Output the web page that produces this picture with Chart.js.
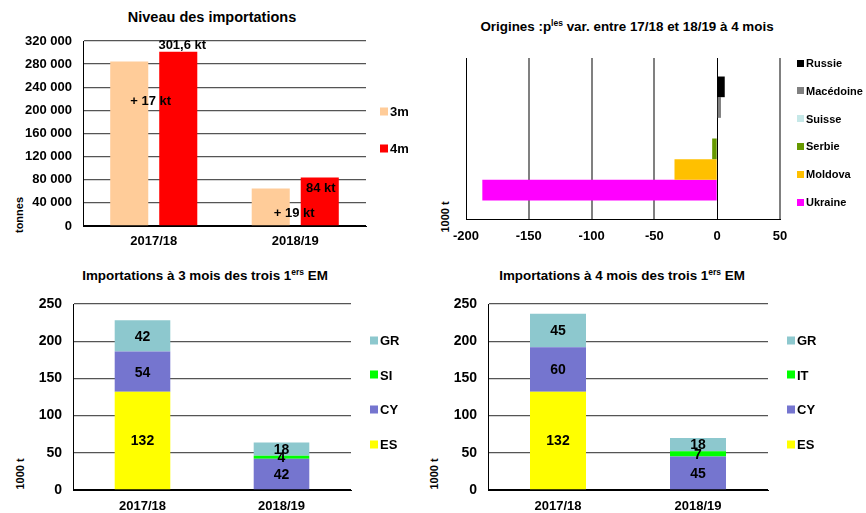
<!DOCTYPE html>
<html lang="fr">
<head>
<meta charset="utf-8">
<title>Importations</title>
<script src="https://cdn.jsdelivr.net/npm/chart.js@4.4.0/dist/chart.umd.min.js"></script>
<style>
  body { margin: 0; background: #fff; font-family: "Liberation Sans", Arial, sans-serif; color: #000; }
  #page { position: relative; width: 866px; height: 513px; overflow: hidden; background: #fff; }
  canvas { position: absolute; }
  .titre { position: absolute; font-weight: bold; font-size: 13.4px; white-space: nowrap; transform: translate(-50%, -50%); }
  .titre sup { font-size: 8.5px; vertical-align: 5px; line-height: 0; }
  .axe { position: absolute; font-weight: bold; font-size: 11px; white-space: nowrap; transform: translate(-50%, -50%) rotate(-90deg); }
  .leg { position: absolute; font-weight: bold; white-space: nowrap; transform: translateY(-50%); display: flex; align-items: center; }
  .leg .box { display: inline-block; margin-right: 2px; }
</style>
</head>
<body>
<div id="page">
  <div class="titre" style="left:212px; top:17px; font-size:14.5px">Niveau des importations</div>
  <div class="titre" style="left:627px; top:26px">Origines :p<sup>les</sup> var. entre 17/18 et 18/19 à 4 mois</div>
  <div class="titre" style="left:205px; top:275px">Importations à 3 mois des trois 1<sup>ers</sup> EM</div>
  <div class="titre" style="left:622px; top:275px">Importations à 4 mois des trois 1<sup>ers</sup> EM</div>

  <div class="axe" style="left:19px; top:215px">tonnes</div>
  <div class="axe" style="left:445px; top:217px">1000 t</div>
  <div class="axe" style="left:20px; top:474px">1000 t</div>
  <div class="axe" style="left:434px; top:474px">1000 t</div>

  <canvas id="c1" width="430" height="255" style="left:0; top:0"></canvas>
  <canvas id="c2" width="436" height="255" style="left:430px; top:0"></canvas>
  <canvas id="c3" width="430" height="258" style="left:0; top:255px"></canvas>
  <canvas id="c4" width="436" height="258" style="left:430px; top:255px"></canvas>
</div>

<script>
// DONNEES
const years = ["2017/18", "2018/19"];

// niveau des importations (tonnes)
const periods = ["3m", "4m"];
const imports3m = [284600, 65000];
const imports4m = [301600, 84000];
const notes = ["301,6 kt", "+ 17 kt", "84 kt", "+ 19 kt"];

// origines : variations entre 17/18 et 18/19 a 4 mois (1000 t)
const origins = ["Russie", "Macédoine", "Suisse", "Serbie", "Moldova", "Ukraine"];
const variations = [6, 3, 0.4, -4, -34, -187];
const originTicks = [-200, -150, -100, -50, 0, 50];

// trois premiers EM a 3 mois (1000 t)
const members3 = ["ES", "CY", "SI", "GR"];
const es3 = [132, 0];
const cy3 = [54, 42];
const si3 = [0, 4];
const gr3 = [42, 18];

// trois premiers EM a 4 mois (1000 t)
const members4 = ["ES", "CY", "IT", "GR"];
const es4 = [132, 0];
const cy4 = [60, 45];
const it4 = [0, 7];
const gr4 = [45, 18];

// COULEURS
const periodColors = ["#FFCC99", "#FF0000"];
const originColors = ["#000000", "#808080", "#C6E8E8", "#669900", "#FFC000", "#FF00FF"];
const memberColors = ["#FFFF00", "#7575CF", "#00FF00", "#8DC8CE"];

const FAMILY = "'Liberation Sans', Arial, sans-serif";
const tickFont = { family: FAMILY, size: 13, weight: "bold" };

Chart.defaults.font.family = FAMILY;
Chart.defaults.color = "#000";

function fixWidth(w) {
    return (scale) => { scale.width = w; };
}
function fixHeight(h) {
    return (scale) => { scale.height = h; };
}
function espaces(v) {
    return String(v).replace(/\B(?=(\d{3})+(?!\d))/g, " ");
}

// LEGENDE EN HTML
function legende(names, colors, left, top, step, size, box) {
    const page = document.getElementById("page");
    names.forEach((name, i) => {
        const item = document.createElement("div");
        item.className = "leg";
        item.style.left = left + "px";
        item.style.top = (top + i * step) + "px";
        item.style.fontSize = size + "px";
        const carre = document.createElement("span");
        carre.className = "box";
        carre.style.width = box + "px";
        carre.style.height = box + "px";
        carre.style.background = colors[i];
        item.appendChild(carre);
        item.appendChild(document.createTextNode(name));
        page.appendChild(item);
    });
}

// ETIQUETTES DU GRAPHIQUE 1
const notesPlugin = {
    id: "notes",
    afterDatasetsDraw(chart) {
        const ctx = chart.ctx;
        const y = chart.scales.y;
        const b3 = chart.getDatasetMeta(0).data;
        const b4 = chart.getDatasetMeta(1).data;
        ctx.save();
        ctx.font = "bold 13px " + FAMILY;
        ctx.fillStyle = "#000";
        ctx.textAlign = "center";
        ctx.textBaseline = "middle";
        ctx.fillText(notes[0], b4[0].x + 4, b4[0].y - 6);
        ctx.fillText(notes[1], (b3[0].x + b4[0].x) / 2 - 3, y.getPixelForValue(216000));
        ctx.fillText(notes[2], b4[1].x + 1, b4[1].y + 11);
        ctx.fillText(notes[3], (b3[1].x + b4[1].x) / 2 - 1, y.getPixelForValue(21000));
        ctx.restore();
    }
};

// VALEURS DANS LES BARRES EMPILEES
const valuesPlugin = {
    id: "values",
    afterDatasetsDraw(chart) {
        const ctx = chart.ctx;
        ctx.save();
        ctx.font = "bold 14px " + FAMILY;
        ctx.fillStyle = "#000";
        ctx.textAlign = "center";
        ctx.textBaseline = "middle";
        chart.data.datasets.forEach((ds, i) => {
            chart.getDatasetMeta(i).data.forEach((bar, j) => {
                if (!ds.data[j]) return;
                ctx.fillText(String(ds.data[j]), bar.x, (bar.y + bar.base) / 2 + 1);
            });
        });
        ctx.restore();
    }
};

const gridColor = (c) => (c.tick && c.tick.value === 0 ? "#000" : "#555");

// 1. NIVEAU DES IMPORTATIONS
new Chart(document.getElementById("c1"), {
    type: "bar",
    data: {
        labels: years,
        datasets: [
            { label: periods[0], data: imports3m, backgroundColor: periodColors[0] },
            { label: periods[1], data: imports4m, backgroundColor: periodColors[1] },
        ],
    },
    options: {
        responsive: false,
        animation: false,
        layout: { padding: { top: 41, right: 64, bottom: 0, left: 0 } },
        plugins: { legend: { display: false }, tooltip: { enabled: false } },
        datasets: { bar: { categoryPercentage: 0.693, barPercentage: 0.776 } },
        scales: {
            x: {
                grid: { display: false, drawTicks: false },
                border: { color: "#000" },
                ticks: { font: tickFont, color: "#000", padding: 8 },
                afterFit: fixHeight(29),
            },
            y: {
                min: 0,
                max: 320000,
                ticks: { stepSize: 40000, font: tickFont, color: "#000", padding: 11, callback: (v) => espaces(v) },
                grid: { color: gridColor, lineWidth: 1.3, drawTicks: false, tickLength: 0 },
                border: { color: "#000" },
                afterFit: fixWidth(83),
            },
        },
    },
    plugins: [notesPlugin],
});
legende(periods, periodColors, 380, 111, 37, 13, 8);

// 2. ORIGINES
new Chart(document.getElementById("c2"), {
    type: "bar",
    data: {
        labels: [""],
        datasets: origins.map((name, i) => ({
            label: name,
            data: [variations[i]],
            backgroundColor: originColors[i],
        })),
    },
    options: {
        indexAxis: "y",
        responsive: false,
        animation: false,
        layout: { padding: { top: 58, right: 86, bottom: 0, left: 0 } },
        plugins: { legend: { display: false }, tooltip: { enabled: false } },
        datasets: { bar: { categoryPercentage: 0.77, barPercentage: 1 } },
        scales: {
            x: {
                min: originTicks[0],
                max: originTicks[originTicks.length - 1],
                ticks: { stepSize: 50, font: tickFont, color: "#000", padding: 10 },
                grid: {
                    color: (c) => (c.tick.value === 0 || c.tick.value === -200 ? "#000" : "#808080"),
                    lineWidth: (c) => (c.tick.value === 0 || c.tick.value === -200 ? 1 : 2),
                    drawTicks: false,
                    tickLength: 0,
                },
                border: { color: "#000" },
                afterFit: fixHeight(36),
            },
            y: {
                ticks: { display: false },
                grid: { display: false },
                border: { color: "#000" },
                afterFit: fixWidth(36),
            },
        },
    },
});
legende(origins, originColors, 797, 63, 27.8, 11, 7);

// 3 ET 4. TROIS PREMIERS EM
function empile(id, members, series, right, axisWidth) {
    new Chart(document.getElementById(id), {
        type: "bar",
        data: {
            labels: years,
            datasets: members.map((m, i) => ({
                label: m,
                data: series[i],
                backgroundColor: memberColors[i],
            })),
        },
        options: {
            responsive: false,
            animation: false,
            layout: { padding: { top: 49, right: right, bottom: 0, left: 0 } },
            plugins: { legend: { display: false }, tooltip: { enabled: false } },
            datasets: { bar: { categoryPercentage: 0.4, barPercentage: 1 } },
            scales: {
                x: {
                    stacked: true,
                    grid: { display: false, drawTicks: false },
                    border: { color: "#000" },
                    ticks: { font: tickFont, color: "#000", padding: 9 },
                    afterFit: fixHeight(23),
                },
                y: {
                    stacked: true,
                    min: 0,
                    max: 250,
                    ticks: { stepSize: 50, font: { family: FAMILY, size: 14, weight: "bold" }, color: "#000", padding: 11 },
                    grid: { color: gridColor, lineWidth: 1.3, drawTicks: false, tickLength: 0 },
                    border: { color: "#000" },
                    afterFit: fixWidth(axisWidth),
                },
            },
        },
        plugins: [valuesPlugin],
    });
}

empile("c3", members3, [es3, cy3, si3, gr3], 79, 73);
empile("c4", members4, [es4, cy4, it4, gr4], 98, 58);

legende(members3.slice().reverse(), memberColors.slice().reverse(), 370, 340, 34.7, 13, 8);
legende(members4.slice().reverse(), memberColors.slice().reverse(), 787, 340, 34.7, 13, 8);
</script>
</body>
</html>
